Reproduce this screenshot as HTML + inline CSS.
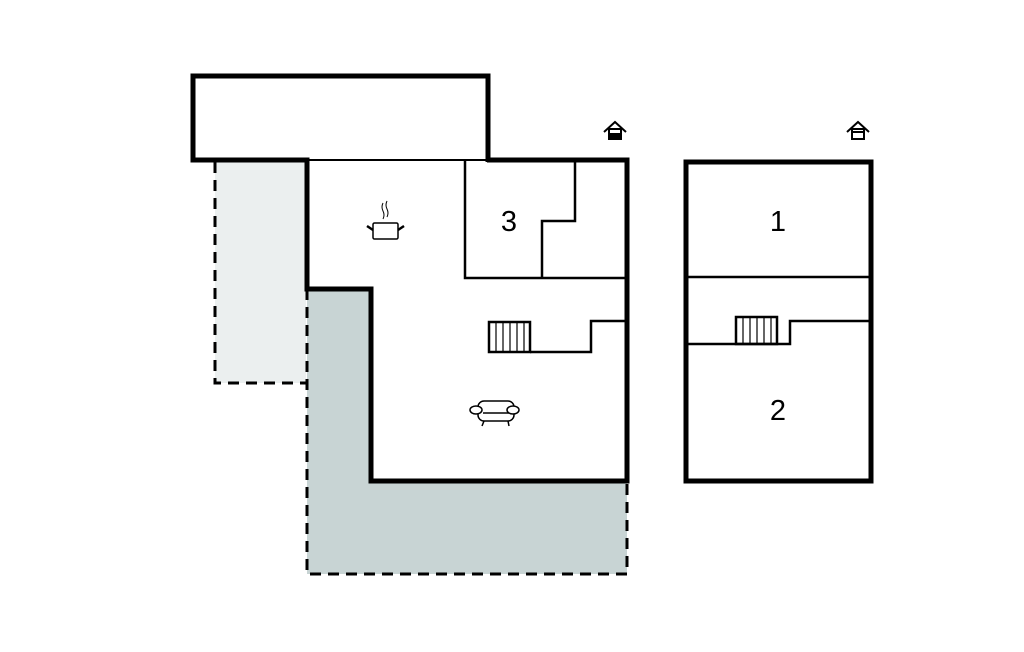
<!DOCTYPE html>
<html><head><meta charset="utf-8"><style>
html,body{margin:0;padding:0;background:#fff;}
svg{display:block;}
text{font-family:"Liberation Sans",sans-serif;}
</style></head><body>
<svg width="1024" height="652" viewBox="0 0 1024 652" xmlns="http://www.w3.org/2000/svg">
<rect x="215" y="160" width="91" height="223" fill="#ebefef"/>
<path d="M215 162 V383 H306" fill="none" stroke="#000" stroke-width="3" stroke-dasharray="11,7"/>
<path d="M307 289 H371 V481 H627 V574 H307 Z" fill="#c8d4d4"/>
<path d="M307 289 V574 H627 V481" fill="none" stroke="#000" stroke-width="3" stroke-dasharray="11,7"/>
<rect x="193" y="76" width="295" height="84" fill="#fff"/>
<path d="M307 160 H193 V76 H488 V162" fill="none" stroke="#000" stroke-width="5"/>
<line x1="307" y1="160" x2="489" y2="160" stroke="#000" stroke-width="2"/>
<path d="M191 160 H307 V289 H371 V481 H627 V160 H487" fill="none" stroke="#000" stroke-width="5"/>
<g fill="none" stroke="#000" stroke-width="2.5">
<path d="M465 160 V278 H627"/>
<path d="M542 278 V221 H575 V160"/>
<rect x="489" y="322" width="41" height="30"/>
<path d="M530 352 H591 V321 H627"/>
<path d="M496 322V352M503 322V352M510 322V352M517 322V352M524 322V352" stroke-width="1.2"/>
</g>
<rect x="686" y="162" width="185" height="319" fill="#fff" stroke="#000" stroke-width="5"/>
<g fill="none" stroke="#000" stroke-width="2.5">
<line x1="686" y1="277" x2="871" y2="277"/>
<path d="M686 344 H790 V321 H871"/>
<rect x="736" y="317" width="41" height="27"/>
<path d="M743 317V344M750 317V344M757 317V344M764 317V344M771 317V344" stroke-width="1.2"/>
</g>
<text x="509" y="231" font-size="29" text-anchor="middle">3</text>
<text x="778" y="231" font-size="29" text-anchor="middle">1</text>
<text x="778" y="420" font-size="29" text-anchor="middle">2</text>
<g fill="none" stroke="#000" stroke-width="2">
<path d="M604 132 L615 122 L626 132"/>
<rect x="609" y="129" width="12" height="10"/>
<path d="M847 132 L858 122 L869 132"/>
<rect x="852" y="129" width="12" height="10"/>
</g>
<rect x="609" y="133" width="12" height="6" fill="#000"/>
<line x1="852" y1="132" x2="864" y2="132" stroke="#000" stroke-width="2"/>
<g fill="none" stroke="#000" stroke-width="1.5">
<rect x="373" y="223" width="25" height="16" rx="1.5"/>
<path d="M367 226 L373 230 M404 226 L398 230" stroke-width="2.5"/>
<path d="M383 203 q-2 4 0 8 q2 4 0 8 M387 201 q-2 4 0 8 q2 4 0 8" stroke-width="1"/>
</g>
<g fill="#fff" stroke="#000" stroke-width="1.5">
<rect x="478" y="401" width="36" height="20" rx="6"/>
<line x1="483" y1="413" x2="509" y2="413"/>
<ellipse cx="476" cy="410" rx="6" ry="4"/>
<ellipse cx="513" cy="410" rx="6" ry="4"/>
<path d="M484 421 L482 426 M508 421 L509 426" fill="none"/>
</g>
</svg>
</body></html>
